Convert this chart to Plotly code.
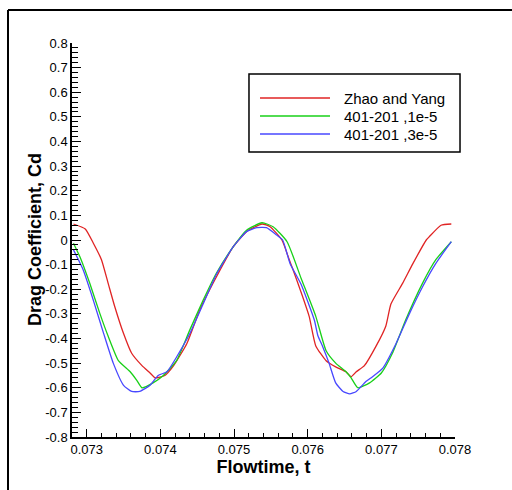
import plotly.graph_objects as go

# ---- data ----
t_zhao = [0.07282, 0.07298, 0.07309, 0.07320, 0.07329, 0.07338, 0.07350, 0.07361, 0.07375, 0.07386,
          0.07393, 0.07406, 0.07418, 0.07436, 0.07454, 0.07476, 0.07499, 0.07517, 0.07538, 0.07549,
          0.07565, 0.07575, 0.07580, 0.07592, 0.07602, 0.07611, 0.07625, 0.07638, 0.07652, 0.07659,
          0.07666, 0.07677, 0.07693, 0.07706, 0.07713, 0.07729, 0.07743, 0.07761, 0.07765, 0.07781,
          0.07795]
cd_zhao = [0.065, 0.045, -0.013, -0.08, -0.175, -0.27, -0.38, -0.46, -0.51, -0.54,
           -0.56, -0.55, -0.51, -0.42, -0.28, -0.15, -0.027, 0.034, 0.065, 0.054,
           0.0, -0.08, -0.12, -0.22, -0.31, -0.43, -0.49, -0.515, -0.535, -0.555,
           -0.535, -0.51, -0.43, -0.35, -0.26, -0.175, -0.095, 0.0, 0.013, 0.06,
           0.065]

t_1e5 = [0.07282, 0.07291, 0.07304, 0.07318, 0.07329, 0.07343, 0.07359, 0.07368, 0.07375, 0.07390,
         0.07404, 0.07422, 0.07440, 0.07458, 0.07476, 0.07499, 0.07517, 0.07538, 0.07553, 0.07572,
         0.07591, 0.07611, 0.07625, 0.07638, 0.07652, 0.07659, 0.07668, 0.07684, 0.07700, 0.07715,
         0.07733, 0.07756, 0.07774, 0.07795]
cd_1e5 = [-0.013, -0.07, -0.175, -0.30, -0.39, -0.49, -0.535, -0.57, -0.60, -0.58,
          -0.55, -0.49, -0.365, -0.245, -0.135, -0.027, 0.04, 0.07, 0.054, -0.007,
          -0.155, -0.31, -0.45, -0.50, -0.535, -0.56, -0.60, -0.58, -0.54, -0.46,
          -0.325, -0.175, -0.08, -0.007]

t_3e5 = [0.07282, 0.07295, 0.07309, 0.07323, 0.07336, 0.07350, 0.07361, 0.07372, 0.07386, 0.07397,
         0.07409, 0.07422, 0.07440, 0.07458, 0.07476, 0.07499, 0.07517, 0.07531, 0.07544, 0.07558,
         0.07566, 0.07576, 0.07591, 0.07609, 0.07614, 0.07620, 0.07629, 0.07638, 0.07648, 0.07657,
         0.07666, 0.07679, 0.07688, 0.07702, 0.07720, 0.07738, 0.07756, 0.07774, 0.07795]
cd_3e5 = [-0.04, -0.12, -0.245, -0.38, -0.50, -0.59, -0.615, -0.615, -0.59, -0.55,
          -0.535, -0.475, -0.38, -0.26, -0.14, -0.027, 0.034, 0.05, 0.05, 0.02,
          0.0, -0.095, -0.18, -0.325, -0.39, -0.43, -0.50, -0.58, -0.615, -0.625,
          -0.615, -0.575, -0.555, -0.52, -0.42, -0.30, -0.19, -0.095, -0.007]

series_names = ["Zhao and Yang", "401-201 ,1e-5", "401-201 ,3e-5"]
series_colors = ["#e02424", "#18d018", "#4848ff"]

x_tickvals = [0.073, 0.074, 0.075, 0.076, 0.077, 0.078]
x_ticktext = ["0.073", "0.074", "0.075", "0.076", "0.077", "0.078"]
y_tickvals = [0.8, 0.7, 0.6, 0.5, 0.4, 0.3, 0.2, 0.1, 0, -0.1, -0.2, -0.3, -0.4, -0.5, -0.6, -0.7, -0.8]
y_ticktext = ["0.8", "0.7", "0.6", "0.5", "0.4", "0.3", "0.2", "0.1", "0", "-0.1", "-0.2", "-0.3",
              "-0.4", "-0.5", "-0.6", "-0.7", "-0.8"]

fig = go.Figure()
for t, cd, name, col in zip([t_zhao, t_1e5, t_3e5], [cd_zhao, cd_1e5, cd_3e5], series_names, series_colors):
    fig.add_trace(go.Scatter(x=t, y=cd, mode="lines", name=name,
                             line=dict(color=col, width=1.3, shape="spline", smoothing=0.5)))

font_family = "Liberation Sans, Arial, sans-serif"

fig.update_layout(
    width=512, height=490,
    margin=dict(l=72, r=57, t=43, b=53),
    paper_bgcolor="white", plot_bgcolor="white",
    font=dict(family=font_family, size=13, color="black"),
    showlegend=False,
    xaxis=dict(range=[0.0728, 0.078], showgrid=False, zeroline=False,
               showline=True, linecolor="black", linewidth=1.5,
               tickvals=x_tickvals, ticktext=x_ticktext,
               ticks="inside", ticklen=8, tickwidth=1, tickcolor="black",
               minor=dict(dtick=0.0002, tick0=0.073, ticks="inside", ticklen=4, tickwidth=1, tickcolor="black"),
               title=dict(text="<b>Flowtime, t</b>", font=dict(size=18, family=font_family), standoff=3),
               tickfont=dict(size=13)),
    yaxis=dict(range=[-0.8, 0.8], showgrid=False, zeroline=False,
               showline=True, linecolor="black", linewidth=1.5,
               tickvals=y_tickvals, ticktext=y_ticktext,
               ticks="inside", ticklen=9, tickwidth=1, tickcolor="black",
               minor=dict(dtick=0.02, tick0=0, ticks="inside", ticklen=6, tickwidth=1, tickcolor="black"),
               tickfont=dict(size=13)),
)

# y-axis title placed precisely
fig.add_annotation(xref="paper", yref="paper", x=-0.0966, y=0.5, text="<b>Drag Coefficient, Cd</b>",
                   textangle=-90, showarrow=False, xanchor="center", yanchor="middle",
                   font=dict(size=18, family=font_family, color="black"))

# legend box drawn in paper coordinates
fig.add_shape(type="rect", xref="paper", yref="paper", x0=0.4621, x1=1.0131, y0=0.7234, y1=0.9213,
              line=dict(color="black", width=1.5), fillcolor="white", layer="above")
row_y = [0.8604, 0.8147, 0.7690]
for name, col, yy in zip(series_names, series_colors, row_y):
    fig.add_shape(type="line", xref="paper", yref="paper", x0=0.4909, x1=0.6736, y0=yy, y1=yy,
                  line=dict(color=col, width=1.5), layer="above")
    fig.add_annotation(xref="paper", yref="paper", x=0.7050, y=yy, text=name, showarrow=False,
                       xanchor="left", yanchor="middle", font=dict(size=15, family=font_family, color="black"))

# outer frame (left and top border of the picture)
fig.add_shape(type="line", xref="paper", yref="paper", x0=-0.1671, x1=-0.1671, y0=1.0838, y1=-0.1345,
              line=dict(color="black", width=2))
fig.add_shape(type="line", xref="paper", yref="paper", x0=-0.1671, x1=1.1488, y0=1.0838, y1=1.0838,
              line=dict(color="black", width=2))

fig.write_html("out.html")
